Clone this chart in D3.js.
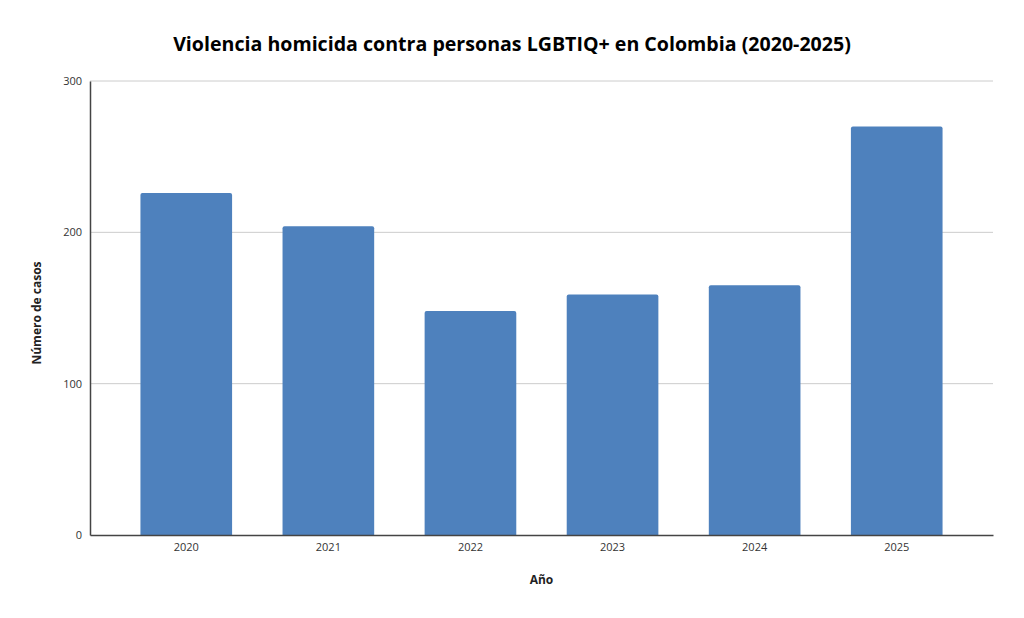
<!DOCTYPE html>
<html>
<head>
<meta charset="utf-8">
<script src="https://cdn.jsdelivr.net/npm/d3@7"></script>
<style>
  body { margin: 0; background: #fff; }
  text { font-family: "Open Sans", "Noto Sans", sans-serif; }
</style>
</head>
<body>
<div id="chart"></div>
<script>
// Data
const years = ['2020', '2021', '2022', '2023', '2024', '2025'];
const cases = [226, 204, 148, 159, 165, 270];
const yTicks = [0, 100, 200, 300];

const dataset = years.map((y, i) => ({ year: y, value: cases[i] }));

const dimensions = {
  width: 1024,
  height: 618,
  margin: { top: 81, bottom: 83, left: 90, right: 31 }
};
dimensions.ctrWidth = dimensions.width - dimensions.margin.left - dimensions.margin.right;
dimensions.ctrHeight = dimensions.height - dimensions.margin.top - dimensions.margin.bottom;

const svg = d3.select('#chart')
  .append('svg')
  .attr('width', dimensions.width)
  .attr('height', dimensions.height);

const ctr = svg.append('g')
  .attr('transform', `translate(${dimensions.margin.left}, ${dimensions.margin.top})`);

// Scales
const xScale = d3.scaleBand()
  .domain(years)
  .range([0, dimensions.ctrWidth])
  .paddingInner(0.355)
  .paddingOuter(0.355);

const yScale = d3.scaleLinear()
  .domain([0, 300])
  .range([dimensions.ctrHeight, 0]);

// Gridlines
ctr.append('g')
  .selectAll('line')
  .data(yTicks.filter(d => d > 0))
  .join('line')
  .attr('x1', 0)
  .attr('x2', dimensions.ctrWidth)
  .attr('y1', d => yScale(d))
  .attr('y2', d => yScale(d))
  .attr('stroke', '#cccccc')
  .attr('stroke-width', 1);

// Bars (slightly rounded top corners)
ctr.append('g')
  .selectAll('path')
  .data(dataset)
  .join('path')
  .attr('fill', '#4e81bd')
  .attr('d', d => {
    const x0 = xScale(d.year), w = xScale.bandwidth();
    const y0 = yScale(d.value), y1 = yScale(0), r = 2;
    return `M${x0},${y1}V${y0 + r}Q${x0},${y0} ${x0 + r},${y0}H${x0 + w - r}Q${x0 + w},${y0} ${x0 + w},${y0 + r}V${y1}Z`;
  });

// Axes
const xAxis = d3.axisBottom(xScale).tickSize(0).tickPadding(8);
const xG = ctr.append('g')
  .attr('transform', `translate(0, ${dimensions.ctrHeight})`)
  .call(xAxis);
xG.select('.domain').attr('stroke', '#444').attr('stroke-width', 1.5);
xG.selectAll('text').attr('font-size', '11px').attr('fill', '#333')
  .style('font-family', '"Open Sans", sans-serif');

const yAxis = d3.axisLeft(yScale).tickValues(yTicks).tickSize(0).tickPadding(8);
const yG = ctr.append('g').call(yAxis);
yG.select('.domain').attr('stroke', '#444').attr('stroke-width', 1.5);
yG.selectAll('text').attr('font-size', '11px').attr('fill', '#333')
  .style('font-family', '"Open Sans", sans-serif');

// Labels
svg.append('text')
  .attr('x', 512)
  .attr('y', 51)
  .attr('text-anchor', 'middle')
  .attr('font-size', '19.6px')
  .attr('font-weight', 'bold')
  .attr('fill', '#000')
  .text('Violencia homicida contra personas LGBTIQ+ en Colombia (2020-2025)');

svg.append('text')
  .attr('x', dimensions.margin.left + dimensions.ctrWidth / 2)
  .attr('y', 584)
  .attr('text-anchor', 'middle')
  .attr('font-size', '12px')
  .attr('font-weight', 'bold')
  .attr('fill', '#222')
  .text('Año');

svg.append('text')
  .attr('x', -313)
  .attr('y', 41)
  .attr('text-anchor', 'middle')
  .attr('transform', 'rotate(-90)')
  .attr('font-size', '12px')
  .attr('font-weight', 'bold')
  .attr('fill', '#222')
  .text('Número de casos');
</script>
</body>
</html>
